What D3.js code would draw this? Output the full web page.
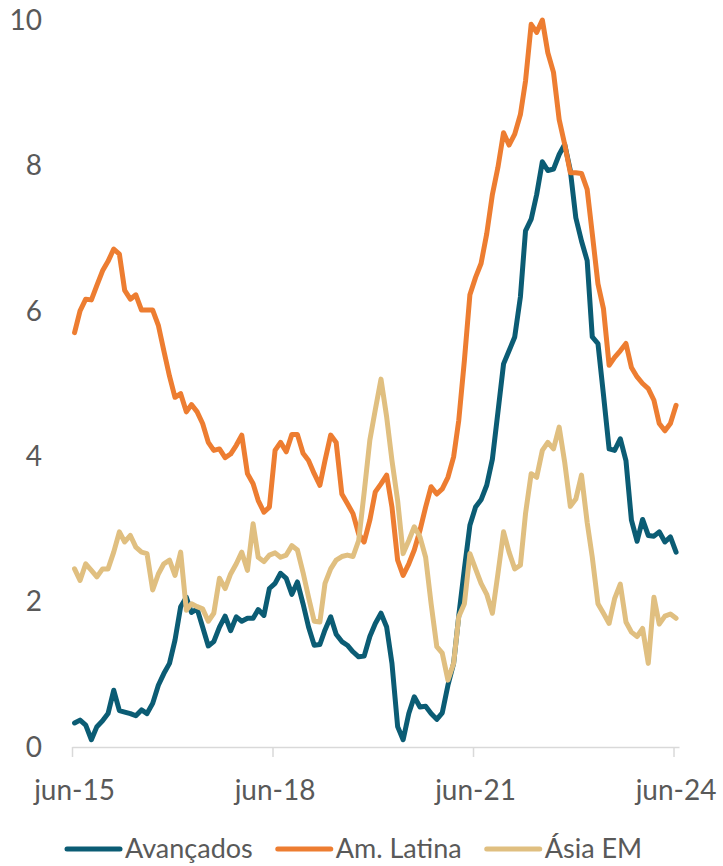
<!DOCTYPE html>
<html><head><meta charset="utf-8">
<script src="https://cdn.jsdelivr.net/npm/d3@7"></script>
<style>
body{margin:0;background:#fff}
svg text{font-family:Lato,'Open Sans',sans-serif;fill:#595959}
</style>
</head><body>
<svg id="chart" width="723" height="866"></svg>
<script>
// Monthly data, jun-2015 .. jun-2024 (109 points)
const firstMonth = {year: 2015, month: 5};
const avancados = [
0.33,0.37,0.30,0.10,0.28,0.36,0.46,0.78,0.50,0.48,
0.46,0.43,0.51,0.46,0.60,0.85,1.01,1.15,1.47,1.93,
2.06,1.85,1.90,1.65,1.39,1.45,1.65,1.80,1.60,1.79,
1.73,1.77,1.77,1.89,1.81,2.18,2.25,2.39,2.32,2.10,
2.27,1.97,1.65,1.40,1.41,1.61,1.79,1.55,1.45,1.40,
1.31,1.24,1.25,1.52,1.70,1.84,1.65,1.15,0.28,0.10,
0.46,0.69,0.55,0.56,0.46,0.38,0.47,0.85,1.15,1.80,
2.45,3.05,3.30,3.40,3.60,3.96,4.60,5.27,5.45,5.64,
6.19,7.10,7.26,7.60,8.05,7.93,7.95,8.15,8.29,7.93,
7.28,6.96,6.69,5.64,5.55,4.85,4.10,4.08,4.24,3.94,
3.12,2.83,3.13,2.91,2.90,2.96,2.82,2.89,2.68];
const amLatina = [
5.70,6.00,6.16,6.15,6.35,6.55,6.68,6.85,6.78,6.28,
6.16,6.22,6.01,6.01,6.01,5.80,5.45,5.10,4.81,4.86,
4.61,4.71,4.61,4.45,4.19,4.08,4.10,3.98,4.03,4.15,
4.29,3.76,3.62,3.39,3.23,3.30,4.08,4.19,4.06,4.30,
4.30,4.04,3.94,3.76,3.60,3.94,4.29,4.19,3.48,3.35,
3.21,2.93,2.82,3.12,3.51,3.62,3.74,3.30,2.57,2.36,
2.52,2.71,2.98,3.30,3.58,3.48,3.55,3.71,3.99,4.49,
5.32,6.22,6.46,6.65,7.06,7.60,7.97,8.45,8.28,8.43,
8.70,9.16,9.94,9.83,10.0,9.55,9.28,8.63,8.29,7.90,
7.90,7.89,7.67,7.06,6.37,6.03,5.25,5.36,5.45,5.55,
5.22,5.09,5.00,4.93,4.77,4.45,4.35,4.45,4.70];
const asiaEM = [
2.45,2.29,2.52,2.43,2.34,2.45,2.45,2.68,2.96,2.82,
2.91,2.75,2.68,2.66,2.16,2.38,2.52,2.57,2.36,2.68,
1.88,1.97,1.93,1.90,1.73,1.84,2.32,2.18,2.38,2.52,
2.68,2.43,3.07,2.61,2.55,2.64,2.67,2.61,2.64,2.77,
2.71,2.40,2.06,1.73,1.72,2.25,2.45,2.57,2.62,2.64,
2.62,2.84,3.50,4.22,4.64,5.06,4.54,3.94,3.39,2.66,
2.84,3.03,2.89,2.61,1.97,1.38,1.29,0.92,1.15,1.79,
1.97,2.66,2.45,2.25,2.10,1.84,2.38,2.96,2.68,2.45,
2.50,3.21,3.76,3.71,4.08,4.19,4.10,4.40,3.92,3.31,
3.41,3.74,3.09,2.61,1.97,1.84,1.70,2.04,2.24,1.72,
1.58,1.52,1.63,1.15,2.06,1.69,1.80,1.83,1.77];

const seriesNames = ["Avançados","Am. Latina","Ásia EM"];
const seriesColors = ["#0B5C74","#ED7D31","#E0BF80"];
const xTickLabels = ["jun-15","jun-18","jun-21","jun-24"];
const xTickYears = [2015,2018,2021,2024];
const yTicks = [0,2,4,6,8,10];

const svg = d3.select("#chart");
const dates = avancados.map((_, i) => new Date(firstMonth.year, firstMonth.month + i, 15));

const x = d3.scaleTime()
  .domain([new Date(2015,5,1), new Date(2024,6,1)])
  .range([72, 679]);
const y = d3.scaleLinear().domain([0,10]).range([747, 20]);

// y labels
svg.append("g").selectAll("text").data(yTicks).join("text")
  .attr("x", 42).attr("y", d => y(d)).attr("dy","0.35em")
  .attr("text-anchor","end").style("font-size","28px")
  .text(d => d);

// x axis
const xAxis = d3.axisBottom(x)
  .tickValues(xTickYears.map(yr => new Date(yr,5,1)))
  .tickSize(10).tickSizeOuter(0).tickFormat("");
const gx = svg.append("g").attr("transform", `translate(0,${y(0)})`).call(xAxis);
gx.select(".domain").attr("stroke","#D9D9D9").attr("stroke-width",1.5);
gx.selectAll(".tick line").attr("stroke","#D9D9D9").attr("stroke-width",1.5);

svg.append("g").selectAll("text").data(xTickLabels).join("text")
  .attr("x", (d,i) => x(new Date(xTickYears[i],5,15)))
  .attr("y", 800).attr("text-anchor","middle").style("font-size","28px")
  .text(d => d);

// lines
const allSeries = [avancados, amLatina, asiaEM];
const line = d3.line().x((d,i) => x(dates[i])).y(d => y(d));
svg.append("g").selectAll("path").data(allSeries).join("path")
  .attr("d", d => line(d))
  .attr("fill","none")
  .attr("stroke", (d,i) => seriesColors[i])
  .attr("stroke-width", 5)
  .attr("stroke-linejoin","round")
  .attr("stroke-linecap","round");

// legend
const lg = svg.append("g");
let lx = 67;
const ly = 849;
seriesNames.forEach((name, i) => {
  lg.append("line").attr("x1", lx).attr("x2", lx + 53).attr("y1", ly).attr("y2", ly)
    .attr("stroke", seriesColors[i]).attr("stroke-width", 5).attr("stroke-linecap","round");
  const t = lg.append("text").attr("x", lx + 58).attr("y", ly).attr("dy","0.35em")
    .style("font-size","27px").text(name);
  lx = lx + 58 + t.node().getComputedTextLength() + 25;
});
</script>
</body></html>
